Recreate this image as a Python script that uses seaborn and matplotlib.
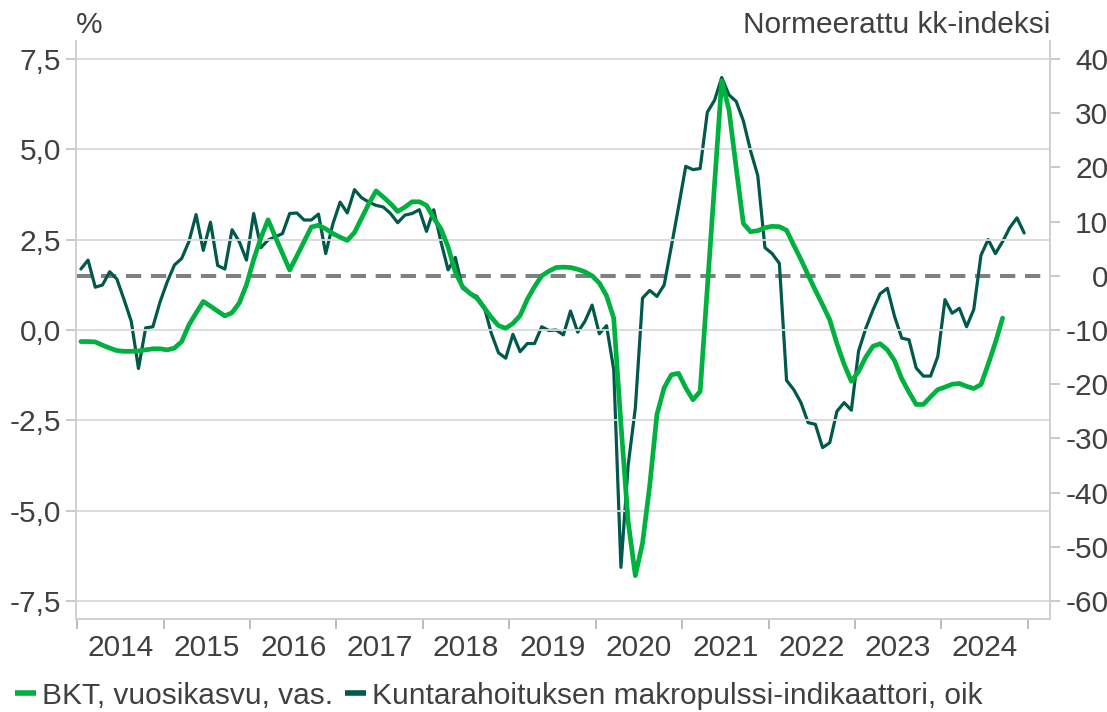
import numpy as np
import pandas as pd
import matplotlib.pyplot as plt
import seaborn as sns

# kuukausidata tammi 2014 ->
first_year = 2014

# Kuntarahoituksen makropulssi-indikaattori (oikea akseli), 2014-01 .. 2024-12
pulse = [1.25, 2.9, -2.1, -1.7, 0.75, -0.6, -4.4, -8.4, -17.1, -9.6, -9.4, -4.8,
         -1.1, 2.0, 3.2, 6.3, 11.3, 4.7, 9.9, 1.9, 1.25, 8.5, 6.3, 2.9,
         11.5, 5.2, 6.6, 7.2, 7.8, 11.5, 11.6, 10.3, 10.3, 11.4, 4.1, 9.6,
         13.6, 11.6, 15.9, 14.4, 13.6, 13.0, 12.7, 11.5, 9.8, 11.2, 11.5, 12.2,
         8.2, 12.2, 6.3, 1.1, 3.4, -2.3, -3.2, -3.8, -5.7, -10.6, -14.2, -15.2,
         -10.8, -14.0, -12.5, -12.5, -9.4, -10.1, -10.0, -10.9, -6.5, -10.4, -8.4, -5.4,
         -10.7, -9.2, -17.3, -53.8, -35.0, -24.4, -4.1, -2.7, -3.8, -1.7, 5.4, 12.7,
         20.2, 19.6, 19.8, 30.2, 32.4, 36.6, 33.4, 32.2, 28.6, 23.1, 18.5, 5.2,
         4.1, 2.3, -19.3, -21.0, -23.4, -27.1, -27.4, -31.7, -30.8, -25.0, -23.4, -24.8,
         -13.9, -9.7, -6.3, -3.3, -2.3, -7.5, -11.5, -11.8, -17.0, -18.5, -18.5, -14.9,
         -4.4, -6.9, -6.0, -9.4, -6.2, 3.8, 6.7, 4.1, 6.3, 8.9, 10.7, 7.9]

# BKT, vuosikasvu % (vasen akseli), 2014-01 .. 2024-09
gdp = [-0.32, -0.32, -0.33, -0.42, -0.50, -0.57, -0.59, -0.59, -0.58, -0.55, -0.52, -0.52,
       -0.55, -0.50, -0.32, 0.14, 0.47, 0.79, 0.66, 0.52, 0.39, 0.48, 0.75, 1.25,
       1.95, 2.55, 3.05, 2.58, 2.12, 1.66, 2.05, 2.45, 2.85, 2.90, 2.80, 2.67,
       2.57, 2.48, 2.70, 3.10, 3.50, 3.85, 3.68, 3.50, 3.28, 3.40, 3.55, 3.55,
       3.45, 3.10, 2.80, 2.30, 1.60, 1.20, 1.02, 0.88, 0.62, 0.35, 0.12, 0.05,
       0.18, 0.40, 0.85, 1.20, 1.50, 1.63, 1.73, 1.74, 1.73, 1.68, 1.61, 1.50,
       1.30, 0.95, 0.33, -2.60, -5.30, -6.80, -5.90, -4.30, -2.34, -1.60, -1.24, -1.20,
       -1.60, -1.93, -1.70, 1.17, 4.03, 6.90, 6.10, 4.50, 2.95, 2.72, 2.75, 2.83,
       2.87, 2.86, 2.76, 2.35, 1.95, 1.52, 1.10, 0.70, 0.28, -0.38, -0.95, -1.42,
       -1.15, -0.75, -0.45, -0.38, -0.55, -0.85, -1.35, -1.72, -2.06, -2.06, -1.85, -1.65,
       -1.58, -1.50, -1.48, -1.56, -1.62, -1.51, -0.95, -0.35, 0.33]

years = list(range(2014, 2025))
left_ticks = [-7.5, -5.0, -2.5, 0.0, 2.5, 5.0, 7.5]
left_labels = ['-7,5', '-5,0', '-2,5', '0,0', '2,5', '5,0', '7,5']
right_ticks = [-60, -50, -40, -30, -20, -10, 0, 10, 20, 30, 40]
right_labels = ['-60', '-50', '-40', '-30', '-20', '-10', '0', '10', '20', '30', '40']

GREEN = '#00b140'
DARK = '#00594a'
TEXT = '#404040'
GRID = '#d9d9d9'

df_pulse = pd.DataFrame({'aika': first_year + (np.arange(len(pulse)) + 0.5) / 12, 'arvo': pulse})
df_gdp = pd.DataFrame({'aika': first_year + (np.arange(len(gdp)) + 0.5) / 12, 'arvo': gdp})

sns.set_style('white')
plt.rcParams['font.family'] = ['Liberation Sans', 'DejaVu Sans']

fig, ax = plt.subplots(figsize=(11.07, 7.12), dpi=100)
fig.subplots_adjust(left=0.0687, right=0.9485, bottom=0.1306, top=0.9424)
ax2 = ax.twinx()

sns.lineplot(data=df_pulse, x='aika', y='arvo', ax=ax2, color=DARK, lw=2.3,
             label='Kuntarahoituksen makropulssi-indikaattori, oik', legend=False)
ax2.axhline(0, color='#808080', lw=2.9, dashes=(3.8, 2.4), zorder=1)
sns.lineplot(data=df_gdp, x='aika', y='arvo', ax=ax, color=GREEN, lw=3.4,
             label='BKT, vuosikasvu, vas.', legend=False, zorder=3)

# vihreä viiva päällimmäiseksi
ax.set_zorder(ax2.get_zorder() + 1)
ax.patch.set_visible(False)

ax.set_xlim(2013.986, 2025.257)
ax.set_ylim(-8, 8)
ax2.set_ylim((-8 - 1.5) / 0.15, (8 - 1.5) / 0.15)

ax.set_yticks(left_ticks)
ax.set_yticklabels(left_labels)
ax2.set_yticks(right_ticks)
ax2.set_yticklabels(right_labels, ha='right')

ax.set_xticks([y for y in years] + [2025])
ax.set_xticklabels([])
ax.set_xticks([y + 0.5 for y in years], minor=True)
ax.set_xticklabels([str(y) for y in years], minor=True)

ax.grid(axis='y', color=GRID, lw=1.3)
ax.grid(axis='x', visible=False)
ax.set_xlabel('')
ax.set_ylabel('')
ax2.set_ylabel('')

for a in (ax, ax2):
    a.spines['top'].set_visible(False)
    for s in ('left', 'right', 'bottom'):
        a.spines[s].set_color('#d0d0d0')
        a.spines[s].set_linewidth(1.3)

ax.tick_params(axis='y', left=True, length=7, width=1.2, color='#c0c0c0',
               labelsize=21.5, labelcolor=TEXT, pad=4)
ax2.tick_params(axis='y', right=True, length=7, width=1.2, color='#c0c0c0',
                labelsize=21.5, labelcolor=TEXT, pad=35)
ax.tick_params(axis='x', which='major', bottom=True, length=7, width=1.2, color='#b0b0b0')
ax.tick_params(axis='x', which='minor', bottom=True, length=0, labelsize=21.5,
               labelcolor=TEXT, pad=11)

fig.text(76 / 1107, 1 - 33 / 712, '%', fontsize=21.5, color=TEXT, ha='left', va='baseline')
fig.text(1050 / 1107, 1 - 33 / 712, 'Normeerattu kk-indeksi', fontsize=21.5, color=TEXT,
         ha='right', va='baseline')

h1, l1 = ax.get_legend_handles_labels()
h2, l2 = ax2.get_legend_handles_labels()
leg = fig.legend(h1 + h2, l1 + l2, loc='center left', bbox_to_anchor=(0.0136, 0.023),
                 ncol=2, frameon=False, fontsize=21.5, handlelength=0.7,
                 handletextpad=0.2, columnspacing=0.4, borderpad=0, borderaxespad=0)
for t in leg.get_texts():
    t.set_color(TEXT)
for line in leg.get_lines():
    line.set_linewidth(4)
    line.set_solid_capstyle('butt')

fig.savefig('out.png', dpi=100)
